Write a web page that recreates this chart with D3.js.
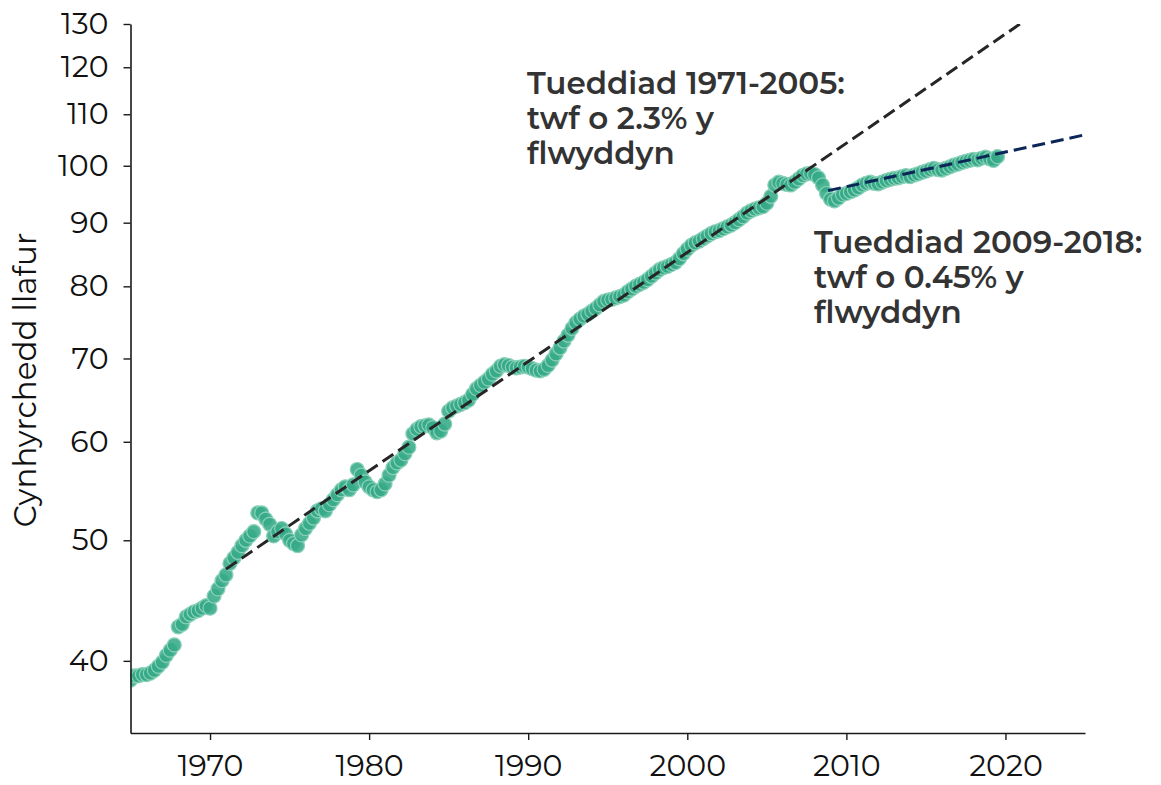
<!DOCTYPE html>
<html>
<head>
<meta charset="utf-8">
<script src="https://cdn.jsdelivr.net/npm/d3@7"></script>
<style>
  html, body { margin: 0; padding: 0; background: #fff; }
  svg { display: block; }
  text { font-family: Montserrat, "Noto Sans", "Open Sans", sans-serif; }
</style>
</head>
<body>
<svg id="chart" width="1161" height="785"></svg>
<script>
// ---- Data ----
const startYear = 1965;           // first quarter shown
const quarterStep = 0.25;         // quarterly observations
const productivity = [
  38.6, 38.9, 38.9, 39.0,
  39.0, 39.1, 39.3, 39.6,
  39.9, 40.4, 40.8, 41.2,
  42.6, 42.8, 43.4, 43.6,
  43.8, 43.9, 44.1, 44.3,
  44.1, 45.1, 45.7, 46.4,
  46.9, 47.9, 48.4, 48.9,
  49.5, 50.0, 50.4, 50.8,
  52.6, 52.6, 52.0, 51.5,
  50.4, 50.8, 51.1, 50.6,
  50.0, 49.7, 49.5, 50.5,
  51.1, 51.6, 52.1, 52.8,
  53.0, 52.8, 53.4, 53.9,
  54.4, 54.9, 55.2, 54.9,
  55.4, 57.0, 56.4, 55.7,
  55.2, 54.9, 54.7, 54.9,
  55.5, 56.4, 57.2, 57.7,
  58.0, 58.7, 59.4, 60.9,
  61.4, 61.7, 61.8, 61.9,
  61.6, 61.0, 61.2, 62.0,
  63.5, 63.9, 64.1, 64.3,
  64.5, 64.8, 65.5, 66.2,
  66.6, 67.0, 67.4, 68.0,
  68.4, 69.0, 69.2, 69.1,
  68.9, 68.8, 68.9, 69.0,
  68.9, 68.7, 68.5, 68.4,
  68.6, 69.1, 69.8, 70.6,
  71.4, 72.3, 73.1, 74.0,
  74.8, 75.3, 75.7, 76.0,
  76.4, 76.8, 77.3, 77.8,
  78.0, 78.1, 78.3, 78.5,
  78.7, 79.2, 79.6, 80.0,
  80.3, 80.6, 81.0, 81.5,
  82.0, 82.5, 82.8, 83.0,
  83.3, 83.6, 84.2, 85.0,
  85.7, 86.3, 86.7, 87.0,
  87.4, 87.8, 88.2, 88.5,
  88.7, 89.0, 89.3, 89.6,
  90.0, 90.5, 91.0, 91.6,
  92.0, 92.3, 92.5, 92.7,
  93.3, 94.5, 96.5, 97.0,
  96.8, 96.6, 96.5, 97.0,
  97.6, 98.2, 98.5, 98.6,
  98.4, 97.8, 96.5, 95.0,
  94.0, 93.7, 94.2, 94.8,
  95.0, 95.3, 95.6, 96.0,
  96.5, 96.8, 97.0, 96.8,
  96.7, 97.0, 97.3, 97.5,
  97.7, 97.8, 98.0, 98.2,
  98.0, 98.3, 98.5, 98.8,
  99.0, 99.3, 99.5, 99.3,
  99.2, 99.5, 99.8, 100.1,
  100.3, 100.6, 100.8, 101.0,
  101.2, 101.1, 101.4, 101.6,
  101.3, 101.0, 101.7
];

// Trend lines (end points, straight in log space)
const trend1Years  = [1971, 2025];
const trend1Values = [47.4, 141.2];
const trend2Years  = [2008.85, 2025];
const trend2Values = [95.5, 105.9];

const xTicks = [1970, 1980, 1990, 2000, 2010, 2020];
const yTicks = [40, 50, 60, 70, 80, 90, 100, 110, 120, 130];

const yLabel = "Cynhyrchedd llafur";
const note1 = ["Tueddiad 1971-2005:", "twf o 2.3% y", "flwyddyn"];
const note2 = ["Tueddiad 2009-2018:", "twf o 0.45% y", "flwyddyn"];

// ---- Layout ----
const svg = d3.select("#chart");
const mLeft = 130.5, mRight = 1085, mTop = 24, mBottom = 733;

const x = d3.scaleLinear().domain([1965, 2025]).range([mLeft, mRight]);
const y = d3.scaleLog().domain([35, 130]).range([mBottom, mTop]);

const points = productivity.map((v, i) => ({ t: startYear + i * quarterStep, v }));

svg.append("defs").append("clipPath").attr("id", "plot")
  .append("rect").attr("x", mLeft).attr("y", mTop).attr("width", mRight - mLeft).attr("height", mBottom - mTop);

const plot = svg.append("g").attr("clip-path", "url(#plot)");

plot.selectAll("circle.pt").data(points).join("circle")
  .attr("class", "pt")
  .attr("cx", d => x(d.t))
  .attr("cy", d => y(d.v))
  .attr("r", 7)
  .attr("fill", "#35aa87")
  .attr("fill-opacity", 0.88)
  .attr("stroke", "#8ad1b8")
  .attr("stroke-width", 1.2);

const line = d3.line().x(d => x(d[0])).y(d => y(d[1]));

plot.append("path")
  .datum(trend1Years.map((t, i) => [t, trend1Values[i]]))
  .attr("d", line)
  .attr("fill", "none")
  .attr("stroke", "#262626")
  .attr("stroke-width", 3)
  .attr("stroke-dasharray", "13,6");

plot.append("path")
  .datum(trend2Years.map((t, i) => [t, trend2Values[i]]))
  .attr("d", line)
  .attr("fill", "none")
  .attr("stroke", "#0c2658")
  .attr("stroke-width", 3)
  .attr("stroke-dasharray", "13,6");

// ---- Axes ----
const xAxis = d3.axisBottom(x).tickValues(xTicks).tickFormat(d3.format("d")).tickSize(7).tickPadding(15).tickSizeOuter(0);
const yAxis = d3.axisLeft(y).tickValues(yTicks).tickFormat(d3.format("d")).tickSize(7).tickPadding(15).tickSizeOuter(0);

const gx = svg.append("g").attr("transform", `translate(0,${mBottom})`).call(xAxis);
const gy = svg.append("g").attr("transform", `translate(${mLeft},0)`).call(yAxis);

[gx, gy].forEach(g => {
  g.select(".domain").attr("stroke", "#1a1a1a").attr("stroke-width", 1.6);
  g.selectAll(".tick line").attr("stroke", "#1a1a1a").attr("stroke-width", 1.4);
  g.selectAll(".tick text").attr("fill", "#111").style("font-size", "30px")
    .style("font-family", 'Montserrat, "Noto Sans", sans-serif');
});

svg.append("text")
  .attr("transform", `translate(36,380) rotate(-90)`)
  .attr("text-anchor", "middle")
  .attr("fill", "#111")
  .style("font-size", "31px")
  .text(yLabel);

function note(lines, xPos, yPos) {
  const t = svg.append("text").attr("x", xPos).attr("y", yPos)
    .attr("fill", "#333").style("font-size", "31px").style("font-weight", 600);
  lines.forEach((s, i) => t.append("tspan").attr("x", xPos).attr("dy", i === 0 ? 0 : 35).text(s));
}
note(note1, 527, 94);
note(note2, 814, 253);
</script>
</body>
</html>
